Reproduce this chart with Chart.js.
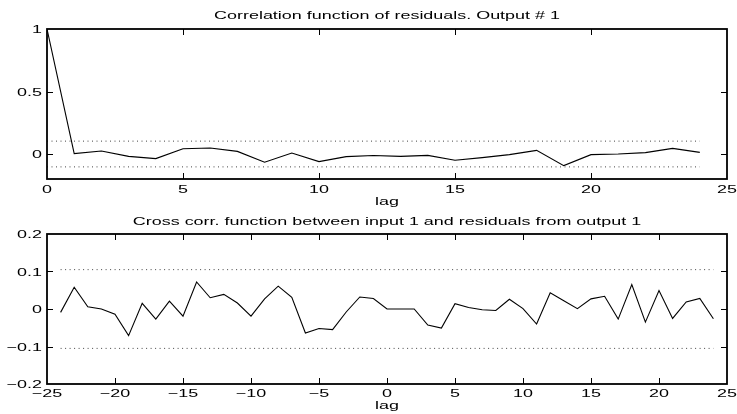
<!DOCTYPE html>
<html>
<head>
<meta charset="utf-8">
<script src="https://cdn.jsdelivr.net/npm/chart.js@4"></script>
<style>
  html, body { margin: 0; padding: 0; background: #fff; width: 737px; height: 414px; overflow: hidden; }
  canvas { position: absolute; left: 0; }
  #acf { top: 0; }
  #ccf { top: 207px; }
</style>
</head>
<body>
<canvas id="acf" width="737" height="207"></canvas>
<canvas id="ccf" width="737" height="207"></canvas>
<script>
// Residual autocorrelation (lags 0..24)
const acfLags = [0, 1, 2, 3, 4, 5, 6, 7, 8, 9, 10, 11, 12, 13, 14, 15, 16, 17, 18, 19, 20, 21, 22, 23, 24];
const acfValues = [1, 0.003, 0.024, -0.019, -0.037, 0.042, 0.048, 0.021, -0.066, 0.008, -0.061, -0.021,
  -0.012, -0.019, -0.011, -0.050, -0.029, -0.005, 0.029, -0.093, -0.005, 0.000, 0.011, 0.045, 0.013];
const acfBound = 0.103;
const acfXTicks = [0, 5, 10, 15, 20, 25];
const acfYTicks = [0, 0.5, 1];

// Cross correlation input 1 / residuals (lags -24..24)
const ccfLags = [-24, -23, -22, -21, -20, -19, -18, -17, -16, -15, -14, -13, -12, -11, -10, -9, -8, -7, -6, -5,
  -4, -3, -2, -1, 0, 1, 2, 3, 4, 5, 6, 7, 8, 9, 10, 11, 12, 13, 14, 15, 16, 17, 18, 19, 20, 21, 22, 23, 24];
const ccfValues = [-0.009, 0.058, 0.006, 0.000, -0.014, -0.071, 0.015, -0.027, 0.021, -0.019, 0.072, 0.030,
  0.039, 0.016, -0.019, 0.027, 0.061, 0.031, -0.064, -0.052, -0.055, -0.008, 0.032, 0.028,
  0.000, 0.000, 0.000, -0.043, -0.051, 0.014, 0.004, -0.002, -0.004, 0.026, 0.001, -0.040, 0.043,
  0.022, 0.001, 0.027, 0.034, -0.027, 0.065, -0.035, 0.049, -0.025, 0.019, 0.028, -0.026];
const ccfBound = 0.105;
const ccfXTicks = [-25, -20, -15, -10, -5, 0, 5, 10, 15, 20, 25];
const ccfYTicks = [-0.2, -0.1, 0, 0.1, 0.2];

const FONT = '11px "Liberation Sans", Arial, Helvetica, sans-serif';
const STRETCH = 1.63;

function fmt(v) {
  const r = Math.round(v * 100) / 100;
  return (r < 0 ? '\u2212' : '') + String(Math.abs(r));
}

function wideText(ctx, str, x, y, align) {
  ctx.save();
  ctx.translate(x, y);
  ctx.scale(STRETCH, 1);
  ctx.font = FONT;
  ctx.fillStyle = '#000';
  ctx.textAlign = align;
  ctx.textBaseline = 'alphabetic';
  ctx.fillText(str, 0, 0);
  ctx.restore();
}

// Box frame, inward ticks and all axis text in the classic plot style
const axesFrame = {
  id: 'axesFrame',
  afterDraw(chart, args, o) {
    const { ctx, chartArea: a } = chart;
    const xs = chart.scales.x, ys = chart.scales.y;
    const TL = 6;
    ctx.save();
    ctx.strokeStyle = '#000';
    ctx.lineWidth = 1;
    ctx.beginPath();
    xs.ticks.forEach(t => {
      const px = Math.round(xs.getPixelForValue(t.value)) + 0.5;
      if (px <= a.left + 2 || px >= a.right - 2) return;
      ctx.moveTo(px, a.bottom); ctx.lineTo(px, a.bottom - TL);
      ctx.moveTo(px, a.top); ctx.lineTo(px, a.top + TL);
    });
    ys.ticks.forEach(t => {
      const py = Math.round(ys.getPixelForValue(t.value)) + 0.5;
      if (py <= a.top + 2 || py >= a.bottom - 2) return;
      ctx.moveTo(a.left, py); ctx.lineTo(a.left + TL, py);
      ctx.moveTo(a.right, py); ctx.lineTo(a.right - TL, py);
    });
    ctx.stroke();
    ctx.lineWidth = 1.8;
    ctx.strokeRect(a.left, a.top, a.right - a.left, a.bottom - a.top);
    ctx.restore();

    const cx = (a.left + a.right) / 2;
    wideText(ctx, o.title, cx, o.titleY, 'center');
    xs.ticks.forEach(t => wideText(ctx, fmt(t.value), xs.getPixelForValue(t.value), o.xTickY, 'center'));
    ys.ticks.forEach(t => wideText(ctx, fmt(t.value), a.left - 5, ys.getPixelForValue(t.value) + 4, 'right'));
    wideText(ctx, o.xLabel, cx, o.xLabelY, 'center');
  }
};

function makeChart(id, lags, values, bound, xTicks, yTicks, xMin, xMax, yMin, yMax, lay) {
  const series = lags.map((l, i) => ({ x: l, y: values[i] }));
  const first = lags[0], last = lags[lags.length - 1];
  const dotted = {
    borderColor: '#444', borderWidth: 1, borderDash: [1, 3.5], pointRadius: 0, fill: false
  };
  return new Chart(document.getElementById(id), {
    type: 'line',
    data: {
      datasets: [
        Object.assign({ data: [{ x: first, y: bound }, { x: last, y: bound }] }, dotted),
        Object.assign({ data: [{ x: first, y: -bound }, { x: last, y: -bound }] }, dotted),
        { data: series, borderColor: '#000', borderWidth: 1.1, pointRadius: 0, tension: 0, fill: false }
      ]
    },
    options: {
      responsive: false,
      animation: false,
      events: [],
      layout: { padding: { left: 0, right: 10, top: lay.top, bottom: 0 } },
      plugins: {
        legend: { display: false },
        tooltip: { enabled: false },
        title: { display: false },
        axesFrame: lay.text
      },
      scales: {
        x: {
          type: 'linear', min: xMin, max: xMax,
          grid: { display: false }, border: { display: false },
          ticks: { display: false },
          afterBuildTicks: s => { s.ticks = xTicks.map(v => ({ value: v })); },
          afterFit: s => { s.height = lay.xHeight; s.paddingLeft = 0; s.paddingRight = 0; }
        },
        y: {
          type: 'linear', min: yMin, max: yMax,
          grid: { display: false }, border: { display: false },
          ticks: { display: false },
          afterBuildTicks: s => { s.ticks = yTicks.map(v => ({ value: v })); },
          afterFit: s => { s.width = 47; s.paddingTop = 0; s.paddingBottom = 0; }
        }
      }
    },
    plugins: [axesFrame]
  });
}

makeChart('acf', acfLags, acfValues, acfBound, acfXTicks, acfYTicks, 0, 25, -0.2, 1, {
  top: 29, xHeight: 28,
  text: { title: 'Correlation function of residuals. Output # 1', titleY: 19, xTickY: 193, xLabel: 'lag', xLabelY: 205 }
});

makeChart('ccf', ccfLags, ccfValues, ccfBound, ccfXTicks, ccfYTicks, -25, 25, -0.2, 0.2, {
  top: 27, xHeight: 30,
  text: { title: 'Cross corr. function between input 1 and residuals from output 1', titleY: 18, xTickY: 190, xLabel: 'lag', xLabelY: 202 }
});
</script>
</body>
</html>
